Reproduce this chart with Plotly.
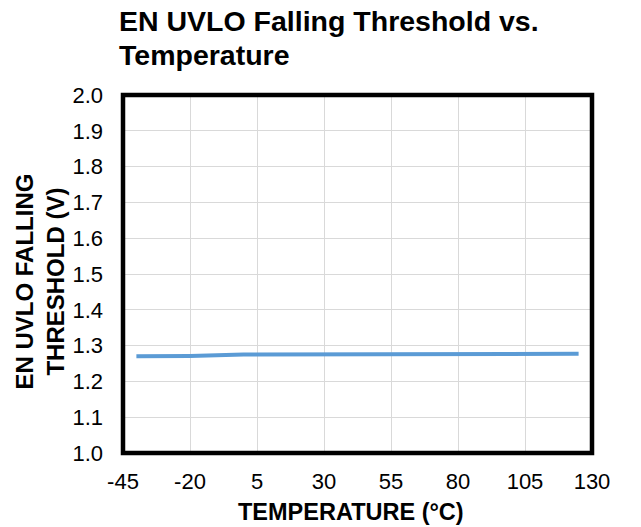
import plotly.graph_objects as go

# EN UVLO falling threshold measured across temperature
temperature_c = [-40, -20, 0, 25, 50, 75, 100, 125]
threshold_v = [1.270, 1.271, 1.275, 1.275, 1.275, 1.276, 1.276, 1.277]

x_ticks = [-45, -20, 5, 30, 55, 80, 105, 130]
y_ticks = [1.0, 1.1, 1.2, 1.3, 1.4, 1.5, 1.6, 1.7, 1.8, 1.9, 2.0]

title_lines = ["EN UVLO Falling Threshold vs.", "Temperature"]
x_title = "TEMPERATURE (°C)"
y_title = "EN UVLO FALLING<br>THRESHOLD (V)"

FONT = "Arial, 'Liberation Sans', sans-serif"

fig = go.Figure()
fig.add_trace(go.Scatter(
    x=temperature_c, y=threshold_v, mode="lines",
    line=dict(color="#5B9BD5", width=4),
    hoverinfo="skip", showlegend=False,
))

annotations = [
    dict(
        text=f"<b>{line}</b>",
        xref="paper", yref="paper", x=-0.0128, y=y,
        xanchor="left", yanchor="top", align="left", showarrow=False,
        font=dict(family=FONT, size=28.5, color="black"),
    )
    for line, y in zip(title_lines, [1.2578, 1.1628])
]
annotations += [
    dict(
        text=f"<b>{x_title}</b>",
        xref="paper", yref="paper", x=0.486, y=-0.122,
        xanchor="center", yanchor="top", showarrow=False,
        font=dict(family=FONT, size=23.5, color="black"),
    ),
    dict(
        text=f"<b>{y_title}</b>",
        xref="paper", yref="paper", x=-0.176, y=0.48,
        xanchor="center", yanchor="middle", textangle=-90,
        showarrow=False, align="center",
        font=dict(family=FONT, size=24, color="black"),
    ),
]

fig.update_layout(
    width=641, height=527,
    margin=dict(l=123, r=49, t=95, b=74),
    paper_bgcolor="white", plot_bgcolor="white",
    font=dict(family=FONT, color="black"),
    xaxis=dict(
        range=[-45, 130], tickvals=x_ticks, ticktext=[str(v) for v in x_ticks],
        showgrid=True, gridcolor="#D9D9D9", gridwidth=1,
        zeroline=False, showline=False, ticks="", automargin=False,
        ticklabelstandoff=13,
        tickfont=dict(family=FONT, size=22, color="black"),
    ),
    yaxis=dict(
        range=[1.0, 2.0], tickvals=y_ticks, ticktext=[f"{v:.1f}" for v in y_ticks],
        showgrid=True, gridcolor="#D9D9D9", gridwidth=1,
        zeroline=False, showline=False, ticks="", automargin=False,
        ticklabelstandoff=19,
        tickfont=dict(family=FONT, size=22, color="black"),
    ),
    annotations=annotations,
    shapes=[dict(
        type="rect", xref="paper", yref="paper", x0=0, y0=0, x1=1, y1=1,
        line=dict(color="black", width=4.5), layer="above",
    )],
)

fig.write_html("out.html")
